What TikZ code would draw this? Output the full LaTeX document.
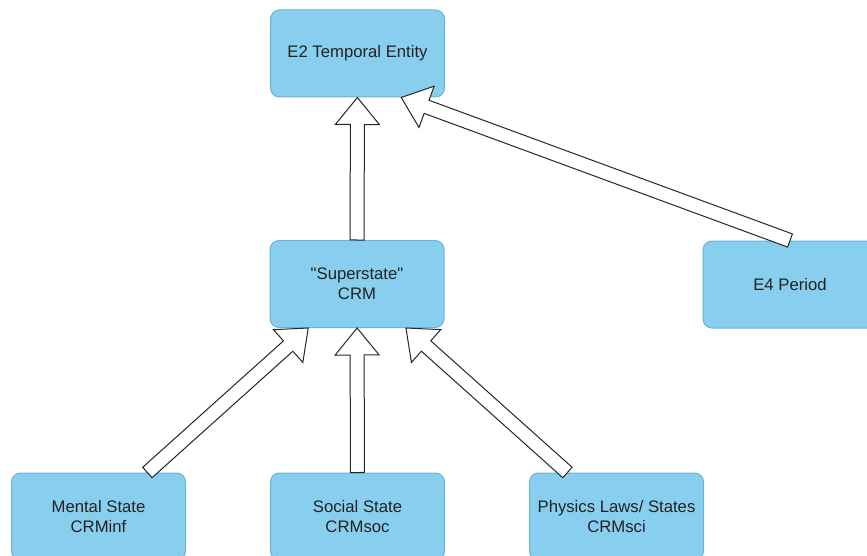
\documentclass[tikz,border=0pt]{standalone}
\usepackage{fontspec}
\setmainfont{Liberation Sans}
\usetikzlibrary{calc}
\definecolor{boxfill}{RGB}{136,206,238}
\definecolor{boxline}{RGB}{108,178,218}
\definecolor{txt}{RGB}{34,34,34}
\tikzset{
  box/.style={draw=boxline, line width=1pt, fill=boxfill, rounded corners=9pt,
    minimum width=174pt, minimum height=87pt, inner sep=0pt, align=center,
    text=txt, font=\fontsize{16.7}{20}\selectfont},
  blockarr/.style={draw=black!85, line width=1pt, fill=white, line join=miter}
}
\newcommand\blockarrow[2]{%
  \coordinate (nk) at ($(#2)!27pt!(#1)$);
  \draw[blockarr] ($(#1)!7pt!90:(#2)$) -- ($(nk)!7pt!90:(#2)$) -- ($(nk)!22pt!90:(#2)$)
    -- (#2) -- ($(nk)!22pt!-90:(#2)$) -- ($(nk)!7pt!-90:(#2)$) -- ($(#1)!7pt!-90:(#2)$) -- cycle;
}
\begin{document}
\begin{tikzpicture}[x=1pt,y=-1pt]
\fill[white] (0,0) rectangle (867,556);
\useasboundingbox (0,0) rectangle (867,556);

\node[box] (e2) at (357.5,53.5) {E2 Temporal Entity};
\node[box] (super) at (357,284) {\textquotedbl Superstate\textquotedbl\\CRM};
\node[box] (e4) at (790,284.5) {E4 Period};
\node[box] (mental) at (98.5,516.5) {Mental State\\CRMinf};
\node[box] (social) at (357.5,516.5) {Social State\\CRMsoc};
\node[box] (physics) at (616.5,516.5) {Physics Laws/ States\\CRMsci};

\path (super) -- (e2) coordinate[pos=0] (a1s) coordinate[pos=1] (a1e);
\coordinate (a2s) at (e4.north);
\coordinate (a2e) at ($(e2.south west)!0.75!(e2.south east)$);
\path (mental) -- (super) coordinate[pos=0] (a3s) coordinate[pos=1] (a3e);
\path (social) -- (super) coordinate[pos=0] (a4s) coordinate[pos=1] (a4e);
\path (physics) -- (super) coordinate[pos=0] (a5s) coordinate[pos=1] (a5e);

\blockarrow{a1s}{a1e}
\blockarrow{a2s}{a2e}
\blockarrow{a3s}{a3e}
\blockarrow{a4s}{a4e}
\blockarrow{a5s}{a5e}
\end{tikzpicture}
\end{document}
